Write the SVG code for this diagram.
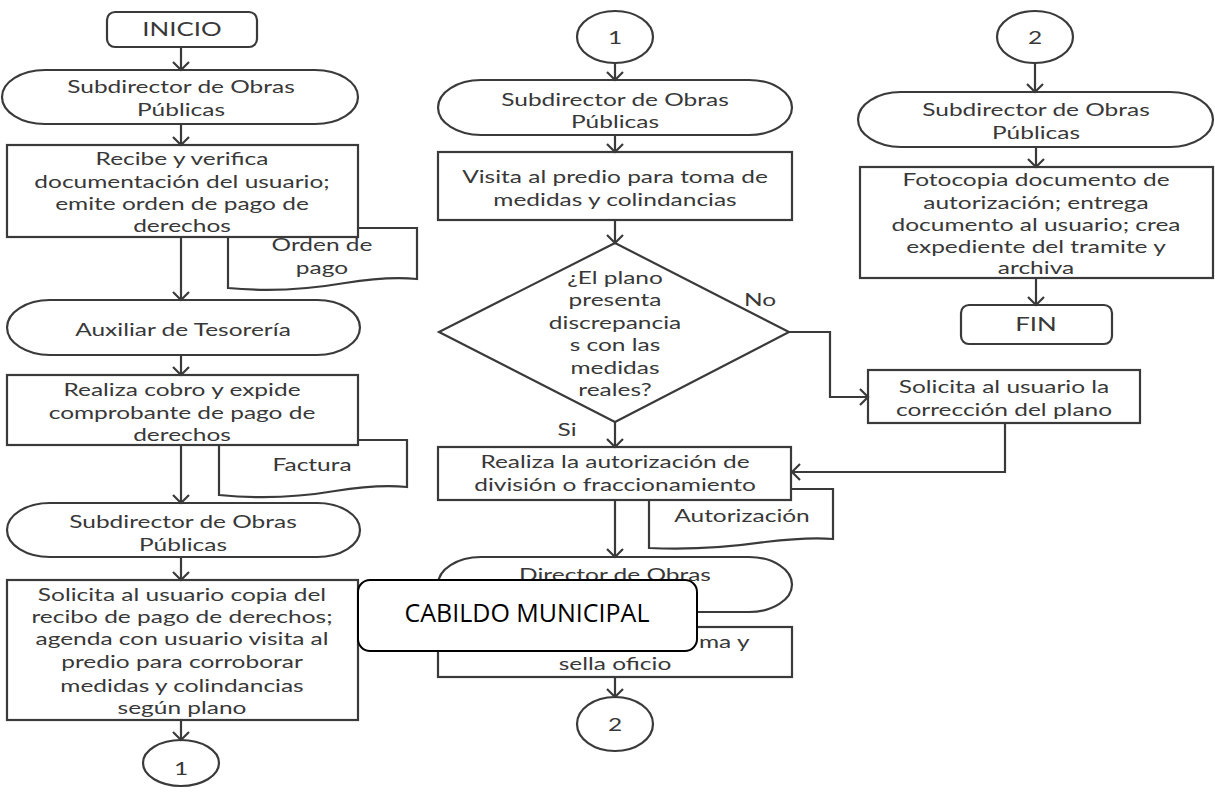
<svg xmlns="http://www.w3.org/2000/svg" width="1215" height="794" viewBox="0 0 1215 794">
  <style>
    .shape { fill: #ffffff; stroke: #3a3a3a; stroke-width: 2.2; }
    .line { fill: none; stroke: #3a3a3a; stroke-width: 2.2; }
    .t { font-family: Lato, "Open Sans", "Liberation Sans", sans-serif; font-size: 18px; fill: #383838; text-anchor: middle; }
    .overlay { fill: #ffffff; stroke: #000000; stroke-width: 2; }
    .ot { font-family: "Open Sans", "Liberation Sans", sans-serif; font-size: 25px; fill: #000000; text-anchor: middle; }
  </style>
  <defs>
    <marker id="arrow" markerUnits="userSpaceOnUse" markerWidth="20" markerHeight="20" viewBox="-10 -10 20 20" refX="0" refY="0" orient="auto">
      <path d="M-8,-8 L0,0 L-8,8" fill="none" stroke="#3a3a3a" stroke-width="2.2"/>
    </marker>
  </defs>
  <rect width="1215" height="794" fill="#ffffff"/>

  <!-- Left column -->
  <g id="inicio">
    <rect class="shape" x="107" y="12" width="150" height="35" rx="8"/>
    <text class="t" style="font-size:19px" transform="translate(182,0) scale(1.36,1)"><tspan x="0" y="36">INICIO</tspan></text>
  </g>
  <g id="actor-subdirector-1">
    <path class="shape" d="M45,70 H315 A43,27 0 0 1 315,124 H45 A43,27 0 0 1 45,70 Z"/>
    <text class="t" transform="translate(181,0) scale(1.36,1)"><tspan x="0" y="93">Subdirector de Obras</tspan><tspan x="0" y="116">Públicas</tspan></text>
  </g>
  <g id="doc-orden-pago">
    <path class="shape" d="M228,228 H417 V279 C395,277 370,279 345,283 C310,289 270,292 228,288 Z"/>
    <text class="t" transform="translate(322,0) scale(1.36,1)"><tspan x="0" y="251">Orden de</tspan><tspan x="0" y="274">pago</tspan></text>
  </g>
  <g id="recibe-verifica">
    <rect class="shape" x="7" y="145" width="351" height="92"/>
    <text class="t" transform="translate(182,0) scale(1.36,1)"><tspan x="0" y="165">Recibe y verifica</tspan><tspan x="0" y="188">documentación del usuario;</tspan><tspan x="0" y="210">emite orden de pago de</tspan><tspan x="0" y="232">derechos</tspan></text>
  </g>
  <g id="actor-auxiliar">
    <path class="shape" d="M50,300 H317 A43,27.5 0 0 1 317,355 H50 A43,27.5 0 0 1 50,300 Z"/>
    <text class="t" transform="translate(183,0) scale(1.36,1)"><tspan x="0" y="336">Auxiliar de Tesorería</tspan></text>
  </g>
  <g id="doc-factura">
    <path class="shape" d="M219,440 H407 V487 C385,485 360,487 335,491 C300,497 260,499 219,495 Z"/>
    <text class="t" transform="translate(312,0) scale(1.36,1)"><tspan x="0" y="471">Factura</tspan></text>
  </g>
  <g id="realiza-cobro">
    <rect class="shape" x="7" y="375" width="351" height="70"/>
    <text class="t" transform="translate(182,0) scale(1.36,1)"><tspan x="0" y="396">Realiza cobro y expide</tspan><tspan x="0" y="419">comprobante de pago de</tspan><tspan x="0" y="441">derechos</tspan></text>
  </g>
  <g id="actor-subdirector-2">
    <path class="shape" d="M50,503 H317 A43,27 0 0 1 317,557 H50 A43,27 0 0 1 50,503 Z"/>
    <text class="t" transform="translate(183,0) scale(1.36,1)"><tspan x="0" y="528">Subdirector de Obras</tspan><tspan x="0" y="551">Públicas</tspan></text>
  </g>
  <g id="solicita-copia">
    <rect class="shape" x="7" y="580" width="351" height="140"/>
    <text class="t" transform="translate(182,0) scale(1.36,1)"><tspan x="0" y="601">Solicita al usuario copia  del</tspan><tspan x="0" y="623">recibo de pago de derechos;</tspan><tspan x="0" y="645">agenda con usuario visita al</tspan><tspan x="0" y="668">predio para corroborar</tspan><tspan x="0" y="692">medidas y colindancias</tspan><tspan x="0" y="714">según plano</tspan></text>
  </g>
  <g id="conector-1-salida">
    <ellipse class="shape" cx="181" cy="763" rx="38" ry="23"/>
    <text class="t" transform="translate(181,0) scale(1.36,1)"><tspan x="0" y="775">1</tspan></text>
  </g>

  <!-- Middle column -->
  <g id="conector-1-entrada">
    <ellipse class="shape" cx="615" cy="37" rx="38" ry="26"/>
    <text class="t" transform="translate(615,0) scale(1.36,1)"><tspan x="0" y="44">1</tspan></text>
  </g>
  <g id="actor-subdirector-3">
    <path class="shape" d="M481,80 H749 A43,27.5 0 0 1 749,135 H481 A43,27.5 0 0 1 481,80 Z"/>
    <text class="t" transform="translate(615,0) scale(1.36,1)"><tspan x="0" y="106">Subdirector de Obras</tspan><tspan x="0" y="128">Públicas</tspan></text>
  </g>
  <g id="visita-predio">
    <rect class="shape" x="438" y="152" width="354" height="68"/>
    <text class="t" transform="translate(615,0) scale(1.36,1)"><tspan x="0" y="183">Visita al predio para toma de</tspan><tspan x="0" y="206">medidas y colindancias</tspan></text>
  </g>
  <g id="decision-plano">
    <polygon class="shape" points="615,243 789,332 615,422 439,332"/>
    <text class="t" transform="translate(615,0) scale(1.36,1)"><tspan x="0" y="284">¿El plano</tspan><tspan x="0" y="306">presenta</tspan><tspan x="0" y="329">discrepancia</tspan><tspan x="0" y="351">s con las</tspan><tspan x="0" y="374">medidas</tspan><tspan x="0" y="396">reales?</tspan></text>
  </g>
  <g id="doc-autorizacion">
    <path class="shape" d="M649,489 H833 V539 C812,537 790,539 765,542 C730,547 690,550 649,548 Z"/>
    <text class="t" transform="translate(742,0) scale(1.36,1)"><tspan x="0" y="522">Autorización</tspan></text>
  </g>
  <g id="realiza-autorizacion">
    <rect class="shape" x="438" y="447" width="353" height="53"/>
    <text class="t" transform="translate(615,0) scale(1.36,1)"><tspan x="0" y="468">Realiza la autorización de</tspan><tspan x="0" y="491">división o fraccionamiento</tspan></text>
  </g>
  <g id="actor-director">
    <path class="shape" d="M481,557 H749 A43,27.5 0 0 1 749,612 H481 A43,27.5 0 0 1 481,557 Z"/>
    <text class="t" transform="translate(615,0) scale(1.36,1)"><tspan x="0" y="581">Director de Obras</tspan></text>
  </g>
  <g id="firma-sella">
    <rect class="shape" x="438" y="627" width="354" height="50"/>
    <text class="t" style="text-anchor:start" transform="translate(699,0) scale(1.36,1)"><tspan x="0" y="648">ma y</tspan></text>
    <text class="t" transform="translate(615,0) scale(1.36,1)"><tspan x="0" y="670">sella oficio</tspan></text>
  </g>
  <g id="conector-2-salida">
    <ellipse class="shape" cx="615" cy="724" rx="38" ry="27"/>
    <text class="t" transform="translate(615,0) scale(1.36,1)"><tspan x="0" y="731">2</tspan></text>
  </g>

  <!-- Right column -->
  <g id="conector-2-entrada">
    <ellipse class="shape" cx="1035" cy="37" rx="38" ry="26"/>
    <text class="t" transform="translate(1035,0) scale(1.36,1)"><tspan x="0" y="44">2</tspan></text>
  </g>
  <g id="actor-subdirector-4">
    <path class="shape" d="M901,92 H1170 A43,27.5 0 0 1 1170,147 H901 A43,27.5 0 0 1 901,92 Z"/>
    <text class="t" transform="translate(1036,0) scale(1.36,1)"><tspan x="0" y="116">Subdirector de Obras</tspan><tspan x="0" y="139">Públicas</tspan></text>
  </g>
  <g id="fotocopia">
    <rect class="shape" x="860" y="167" width="353" height="111"/>
    <text class="t" transform="translate(1036,0) scale(1.36,1)"><tspan x="0" y="186">Fotocopia documento de</tspan><tspan x="0" y="209">autorización; entrega</tspan><tspan x="0" y="231">documento al usuario; crea</tspan><tspan x="0" y="253">expediente del tramite y</tspan><tspan x="0" y="274">archiva</tspan></text>
  </g>
  <g id="fin">
    <rect class="shape" x="961" y="305" width="151" height="39" rx="8"/>
    <text class="t" style="font-size:19px" transform="translate(1036,0) scale(1.36,1)"><tspan x="0" y="331">FIN</tspan></text>
  </g>
  <g id="solicita-correccion">
    <rect class="shape" x="868" y="370" width="272" height="53"/>
    <text class="t" transform="translate(1004,0) scale(1.36,1)"><tspan x="0" y="393">Solicita al usuario la</tspan><tspan x="0" y="416">corrección del plano</tspan></text>
  </g>

  <!-- Connectors -->
  <g id="connectors">
    <path class="line" marker-end="url(#arrow)" d="M181,47 V70"/>
    <path class="line" marker-end="url(#arrow)" d="M181,124 V145"/>
    <path class="line" marker-end="url(#arrow)" d="M181,237 V300"/>
    <path class="line" marker-end="url(#arrow)" d="M181,355 V375"/>
    <path class="line" marker-end="url(#arrow)" d="M181,445 V503"/>
    <path class="line" marker-end="url(#arrow)" d="M181,557 V580"/>
    <path class="line" marker-end="url(#arrow)" d="M181,720 V740"/>
    <path class="line" marker-end="url(#arrow)" d="M615,63 V80"/>
    <path class="line" marker-end="url(#arrow)" d="M615,135 V152"/>
    <path class="line" marker-end="url(#arrow)" d="M615,220 V243"/>
    <path class="line" marker-end="url(#arrow)" d="M615,422 V447"/>
    <path class="line" marker-end="url(#arrow)" d="M615,500 V557"/>
    <path class="line" marker-end="url(#arrow)" d="M615,677 V697"/>
    <path class="line" marker-end="url(#arrow)" d="M1035,63 V92"/>
    <path class="line" marker-end="url(#arrow)" d="M1036,147 V167"/>
    <path class="line" marker-end="url(#arrow)" d="M1036,278 V305"/>
    <path class="line" marker-end="url(#arrow)" d="M789,332 H830 V397 H868"/>
    <path class="line" marker-end="url(#arrow)" d="M1005,423 V472 H792"/>
    <text class="t" transform="translate(760,0) scale(1.36,1)"><tspan x="0" y="306">No</tspan></text>
    <text class="t" transform="translate(567,0) scale(1.36,1)"><tspan x="0" y="436">Si</tspan></text>
  </g>

  <!-- Label box laid over the middle column -->
  <g id="cabildo-municipal">
    <rect class="overlay" x="358" y="580" width="339" height="71" rx="12"/>
    <text class="ot" x="527" y="622">CABILDO MUNICIPAL</text>
  </g>
</svg>
